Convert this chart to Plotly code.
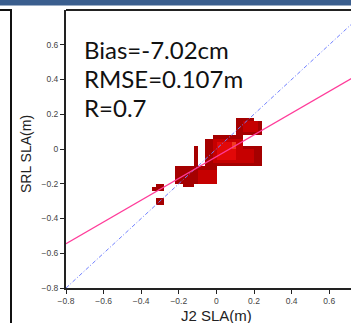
import plotly.graph_objects as go

# ---- data ----
x_ticks = [-0.8, -0.6, -0.4, -0.2, 0, 0.2, 0.4, 0.6]
y_ticks = [-0.8, -0.6, -0.4, -0.2, 0, 0.2, 0.4, 0.6]

stats_lines = ["Bias=-7.02cm", "RMSE=0.107m", "R=0.7"]
x_title = "J2 SLA(m)"
y_title = "SRL SLA(m)"

# regression line (pink) and 1:1 line (blue)
fit_slope = 0.626
fit_intercept = -0.044
line_x = [-0.8, 0.8]

# density cells: 0.02 bins, x centres -0.35..0.25, y centres -0.33..0.19
cell_x = [round(-0.35 + 0.02 * j, 2) for j in range(31)]
cell_y = [round(-0.33 + 0.02 * k, 2) for k in range(27)]
# rows from top (y=0.19) to bottom (y=-0.33); '.' empty, digits = density level
density_rows = [
    "." * 31,                                                              # 0.19
    "." * 23 + "11111" + "." * 3,                                          # 0.17
    "." * 23 + "11" + "2222" + "1" + ".",                                  # 0.15
    "." * 23 + "11" + "2222" + "1" + ".",                                  # 0.13
    "." * 23 + "11" + "2222" + "1" + ".",                                  # 0.11
    "." * 23 + "1" * 7 + ".",                                              # 0.09
    "." * 17 + "1" * 8 + "." * 6,                                          # 0.07
    "." * 15 + "11" + "2" * 8 + "." * 6,                                   # 0.05
    "." * 15 + "11" + "2" + "3333" + "4" + "22" + "." * 6,                 # 0.03
    "." * 12 + "1" + ".." + "11" + "2" + "3333" + "4" + "22" + "1" * 5 + ".",  # 0.01
    "." * 12 + "1" + ".." + "11" + "2" + "3" * 5 + "22" + "222" + "11" + ".",  # -0.01
    "." * 12 + "1" + ".." + "11" + "2" + "3" * 5 + "22" + "222" + "11" + ".",  # -0.03
    "." * 12 + "1" + ".." + "11" + "2" + "3" * 5 + "22" + "222" + "11" + ".",  # -0.05
    "." * 12 + "1" + ".." + "11" + "2" * 8 + "222" + "11" + ".",            # -0.07
    "." * 12 + "1" + ".." + "1" * 15 + ".",                                # -0.09
    "." * 7 + "1" * 11 + "." * 13,                                         # -0.11
    "." * 7 + "1" * 6 + "2" * 5 + "." * 13,                                # -0.13
    "." * 7 + "1" * 6 + "2" * 5 + "." * 13,                                # -0.15
    "." * 7 + "1" * 6 + "2" * 5 + "." * 13,                                # -0.17
    "." * 7 + "1" * 6 + "2" * 5 + "." * 13,                                # -0.19
    ".." + "11" + "." * 5 + "111" + "." * 19,                               # -0.21
    "." + "111" + "." * 27,                                                # -0.23
    "." * 31,                                                              # -0.25
    "." * 31,                                                              # -0.27
    ".." + "11" + "." * 27,                                                # -0.29
    ".." + "11" + "." * 27,                                                # -0.31
    "." * 31,                                                              # -0.33
]

# ---- build grid ----
z = []
for row in reversed(density_rows):
    row = (row + "." * 31)[:31]
    z.append([None if c == "." else int(c) for c in row])

W, H = 351, 323
L, R, T, B = 66, 0, 10, 35
pw, ph = W - L - R, H - T - B
px_per_x = 188.0
x_max = -0.8 + pw / px_per_x

fig = go.Figure()
fig.add_trace(go.Heatmap(
    x=cell_x, y=cell_y, z=z, zmin=1, zmax=4, zsmooth=False,
    colorscale=[[0, "#A50000"], [0.333, "#C60000"], [0.667, "#E20808"], [1, "#F03A1E"]],
    showscale=False, hoverinfo="skip",
))
fig.add_trace(go.Scatter(
    x=line_x, y=line_x, mode="lines",
    line=dict(color="#7080FF", width=1, dash="4px,2px,1px,2px"), hoverinfo="skip",
))
fig.add_trace(go.Scatter(
    x=line_x, y=[fit_slope * v + fit_intercept for v in line_x], mode="lines",
    line=dict(color="#FF3C9A", width=1.2), hoverinfo="skip",
))

tickfont = dict(family="Liberation Sans, Arial, sans-serif", size=8.5, color="#444")
common = dict(showgrid=False, zeroline=False, showline=True, linecolor="#222", linewidth=2,
              ticks="outside", ticklen=4, tickcolor="#222", tickwidth=1, tickfont=tickfont,
              automargin=False)
fig.update_xaxes(range=[-0.8, x_max], tickvals=x_ticks, **common)
fig.update_yaxes(range=[-0.8, 0.8], tickvals=y_ticks, **common)

def py(pix):  # pixel row -> paper y
    return (H - B - pix) / ph

def pxp(pix):  # pixel column -> paper x
    return (pix - L) / pw

annotations = []
for i, s in enumerate(stats_lines):
    annotations.append(dict(text=s, xref="paper", yref="paper", x=pxp(82), y=py(49 + 29 * i),
                            xanchor="left", yanchor="middle", showarrow=False,
                            font=dict(family="Lato, sans-serif", size=24, color="#111")))
annotations.append(dict(text=x_title, xref="x", yref="paper", x=0, y=py(315.5),
                        xanchor="center", yanchor="middle", showarrow=False,
                        font=dict(family="Liberation Sans, Arial, sans-serif", size=15, color="#222")))
annotations.append(dict(text=y_title, xref="paper", yref="paper", x=pxp(26), y=py(154),
                        xanchor="center", yanchor="middle", showarrow=False, textangle=-90,
                        font=dict(family="Liberation Sans, Arial, sans-serif", size=14, color="#222")))

shapes = [
    # top border of the plot
    dict(type="line", xref="paper", yref="paper", x0=0, x1=1.02, y0=1, y1=1,
         line=dict(color="#222", width=2)),
    # header band
    dict(type="rect", xref="paper", yref="paper", x0=pxp(-2), x1=pxp(353), y0=py(5.5), y1=py(-2),
         fillcolor="#3A5E8E", line=dict(width=0)),
    # left panel frame
    dict(type="line", xref="paper", yref="paper", x0=pxp(11), x1=pxp(11), y0=py(10), y1=py(330),
         line=dict(color="#111", width=2)),
    dict(type="line", xref="paper", yref="paper", x0=pxp(-2), x1=pxp(12), y0=py(10), y1=py(10),
         line=dict(color="#111", width=2)),
]

fig.update_layout(
    width=W, height=H, margin=dict(l=L, r=R, t=T, b=B, autoexpand=False),
    paper_bgcolor="white", plot_bgcolor="white", showlegend=False,
    annotations=annotations, shapes=shapes,
)
fig.write_html(
    "out.html",
    config={"displayModeBar": False, "staticPlot": True},
    post_script="document.body.style.margin='0';document.body.style.padding='0';document.body.style.overflow='hidden';",
)
